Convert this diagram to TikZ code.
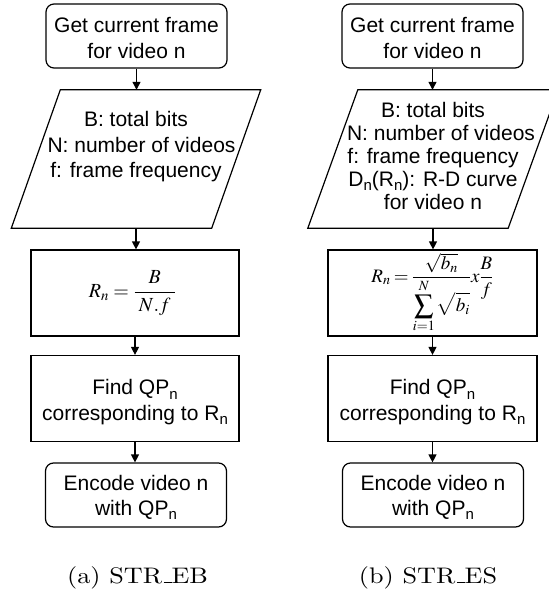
\documentclass[tikz,border=0pt]{standalone}
\usepackage{mathptmx}
\usepackage[no-math]{fontspec}
\usepackage{graphicx}
\setsansfont{Liberation Sans}
\usetikzlibrary{arrows.meta}

% lowered, smaller index as used in the labels (QP_n, R_n, D_n)
\newcommand\lsub[1]{\raisebox{-4.3pt}{\fontsize{15}{15}\selectfont #1}}
% baseline rule in place of the underscore, as in the captions
\newcommand\lowbar{\leavevmode\kern.06em\vbox{\hrule width.3em height.045em}}
% invisible strut that pushes the first line of a label down
\newcommand\topstrut[1]{\rule{0pt}{#1}}
% sub-figure caption in Computer Modern style
\newcommand\subcap[1]{\scalebox{2.62}[2.25]{\fontencoding{TU}\fontfamily{lmr}\fontsize{10}{12}\selectfont #1}}

\tikzset{
  lbl/.style={font=\sffamily\fontsize{21}{25.5}\selectfont, align=center, inner sep=0pt},
  term/.style={lbl, draw, line width=1.2pt, rounded corners=8pt,
               minimum width=181pt, minimum height=64pt},
  proc/.style={lbl, draw, line width=1.2pt, minimum width=208pt, minimum height=86pt},
  iobox/.style={inner sep=0pt, minimum width=200pt, minimum height=138pt},
  ioline/.style={line width=1.2pt, line join=miter},
  caplbl/.style={inner sep=0pt, anchor=base},
  flow/.style={line width=1.2pt, -{Triangle[length=8pt,width=8pt]}},
}

\begin{document}
\begin{tikzpicture}[x=1pt, y=-1pt]
\useasboundingbox (0,0) rectangle (548,596);

% ---- (a) STR_EB ----
\node[term] (a1) at (136.5,36) {\topstrut{19pt}Get current frame\\for video n};
\node[iobox] (a2) at (136,159) {};
\draw[ioline] ([xshift=24.5pt]a2.north west) -- ([xshift=24.5pt]a2.north east)
  -- ([xshift=-24.5pt]a2.south east) -- ([xshift=-24.5pt]a2.south west) -- cycle;
\node[lbl] (a2t) at (136,147) {B: total bits\\\hspace*{11pt}N: number of videos\\f: frame frequency};
\node[proc, font=\fontsize{20}{24}\selectfont] (a3) at (135,293)
  {$\displaystyle R_n = \frac{B}{\;N.f\;}$\hspace*{5pt}};
\node[proc] (a4) at (135,398.5) {\topstrut{22.3pt}Find QP\lsub{n}\\corresponding to R\lsub{n}};
\node[term] (a5) at (136,495) {\topstrut{20pt}Encode video n\\with QP\lsub{n}};
\node[caplbl] (ca) at (137.5,583) {\subcap{(a) STR\lowbar EB}};

\draw[flow] (a1.south) -- (a1.south |- a2.north);
\draw[flow] (a2.south) -- (a2.south |- a3.north);
\draw[flow] (a3.south) -- (a3.south |- a4.north);
\draw[flow] (a4.south) -- (a4.south |- a5.north);

% ---- (b) STR_ES ----
\node[term] (b1) at (432.5,36) {\topstrut{19pt}Get current frame\\for video n};
\node[iobox] (b2) at (433,159) {};
\draw[ioline] ([xshift=25pt]b2.north west) -- ([xshift=25pt]b2.north east)
  -- ([xshift=-25pt]b2.south east) -- ([xshift=-25pt]b2.south west) -- cycle;
\node[lbl, font=\sffamily\fontsize{21}{23}\selectfont] (b2t) at (433,155.5)
  {B: total bits\\\hspace*{16pt}N: number of videos\\f: frame frequency\\D\lsub{n}(R\lsub{n}): R-D curve\\for video n};
\node[proc, minimum width=209pt, font=\fontsize{19}{22}\selectfont] (b3) at (432.5,293)
  {$\displaystyle R_n\mskip3mu{=}\mskip3mu\frac{\sqrt{b_n}}{\displaystyle\sum_{i=1}^{N}\sqrt{b_i}}x\frac{B}{f}$};
\node[proc, minimum width=209pt] (b4) at (432.5,398.5) {\topstrut{22.3pt}Find QP\lsub{n}\\corresponding to R\lsub{n}};
\node[term] (b5) at (433,495) {\topstrut{20pt}Encode video n\\with QP\lsub{n}};
\node[caplbl] (cb) at (428,583) {\subcap{(b) STR\lowbar ES}};

\draw[flow] (b1.south) -- (b1.south |- b2.north);
\draw[flow] (b2.south) -- (b2.south |- b3.north);
\draw[flow] (b3.south) -- (b3.south |- b4.north);
\draw[flow] (b4.south) -- (b4.south |- b5.north);
\end{tikzpicture}
\end{document}
